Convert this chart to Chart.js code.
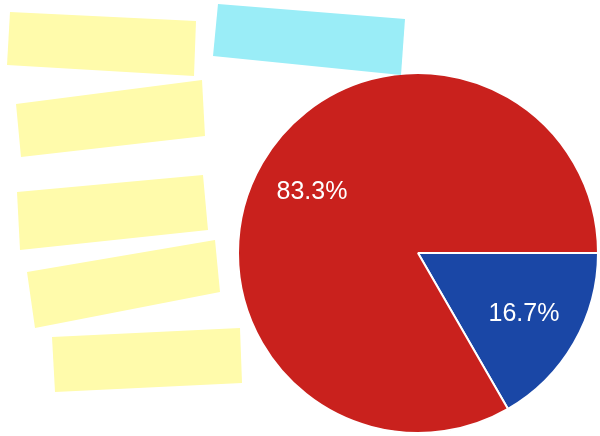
<!DOCTYPE html>
<html>
<head>
<meta charset="utf-8">
<script src="https://cdn.jsdelivr.net/npm/chart.js@4/dist/chart.umd.min.js"></script>
<style>
html,body{margin:0;padding:0;background:#fff;}
#wrap{width:600px;height:436px;position:relative;}
</style>
</head>
<body>
<div id="wrap"><canvas id="c" width="600" height="436"></canvas></div>
<script>
// Data (labels are hidden under paper notes in the reference)
const categories = ["Option B", "Option A"];
const values = [1, 5];
const sliceColors = ["#1a47a6", "#c9211d"];

// Decorative paper notes covering the legend (not data)
const notes = [
  {color: "#fffbab", pts: [[10,12],[196,21],[194,76],[7,65]]},
  {color: "#9aedf7", pts: [[218,4],[405,19],[401,75],[213,56]]},
  {color: "#fffbab", pts: [[16,104],[202,80],[205,136],[21,157]]},
  {color: "#fffbab", pts: [[17,192],[203,175],[208,230],[20,250]]},
  {color: "#fffbab", pts: [[27,272],[215,240],[220,292],[35,328]]},
  {color: "#fffbab", pts: [[52,337],[240,328],[242,383],[55,392]]}
];

const labelPlugin = {
  id: 'pctLabels',
  afterDatasetsDraw(chart) {
    const ctx = chart.ctx;
    const ds = chart.data.datasets[0];
    const total = ds.data.reduce((a, b) => a + b, 0);
    const meta = chart.getDatasetMeta(0);
    ctx.save();
    ctx.fillStyle = '#ffffff';
    ctx.font = '25px "Liberation Sans", Arial, sans-serif';
    ctx.textAlign = 'center';
    ctx.textBaseline = 'middle';
    meta.data.forEach((arc, i) => {
      const p = arc.getProps(['x','y','startAngle','endAngle','outerRadius'], true);
      const mid = (p.startAngle + p.endAngle) / 2;
      const r = p.outerRadius * 0.68;
      const pct = (ds.data[i] / total * 100).toFixed(1) + '%';
      ctx.fillText(pct, p.x + Math.cos(mid) * r, p.y + Math.sin(mid) * r);
    });
    ctx.restore();
  }
};

const notesPlugin = {
  id: 'notes',
  afterDraw(chart) {
    const ctx = chart.ctx;
    ctx.save();
    notes.forEach(n => {
      ctx.beginPath();
      n.pts.forEach((p, i) => i ? ctx.lineTo(p[0], p[1]) : ctx.moveTo(p[0], p[1]));
      ctx.closePath();
      ctx.fillStyle = n.color;
      ctx.fill();
    });
    ctx.restore();
  }
};

new Chart(document.getElementById('c'), {
  type: 'pie',
  data: {
    labels: categories,
    datasets: [{
      data: values,
      backgroundColor: sliceColors,
      borderColor: '#ffffff',
      borderWidth: 2
    }]
  },
  options: {
    responsive: false,
    animation: false,
    rotation: 90,
    radius: 180,
    layout: {padding: {left: 236, top: 70, right: 0, bottom: 0}},
    plugins: {legend: {display: false}, tooltip: {enabled: false}}
  },
  plugins: [labelPlugin, notesPlugin]
});
</script>
</body>
</html>
